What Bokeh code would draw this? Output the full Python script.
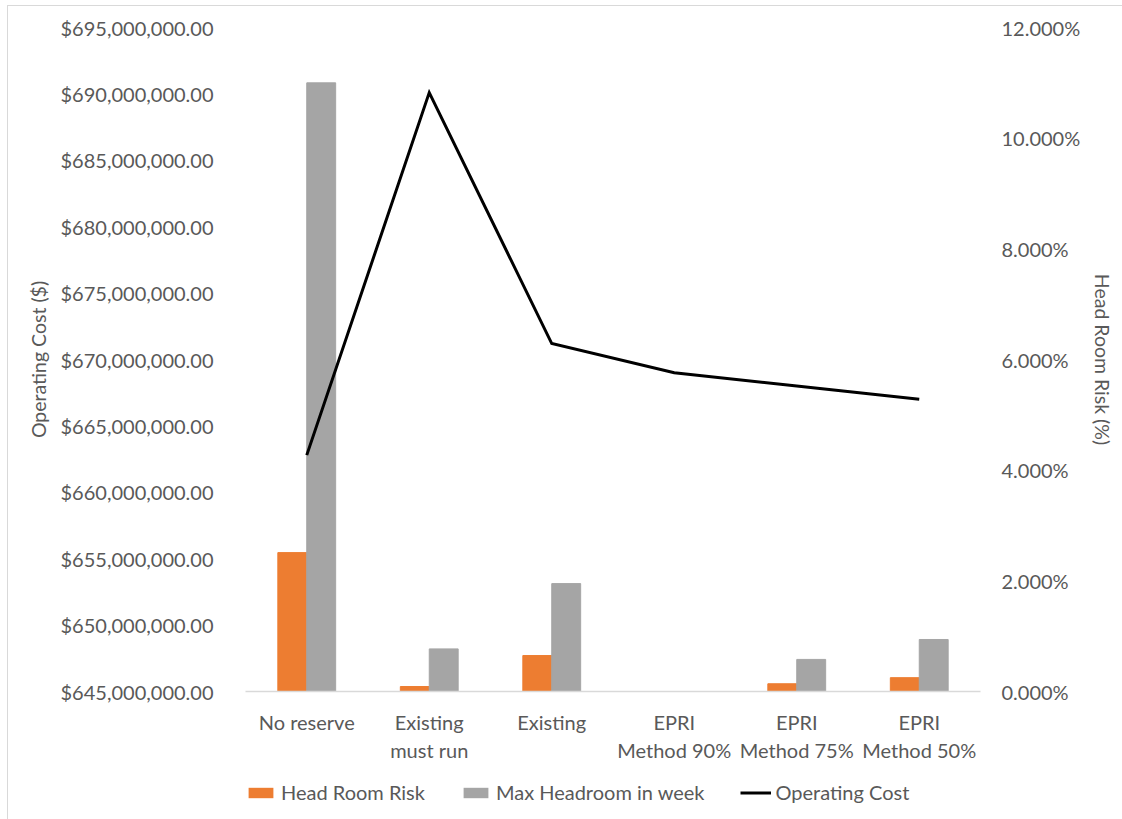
from bokeh.plotting import figure
from bokeh.layouts import column
from bokeh.models import (FactorRange, Range1d, LinearAxis, NumeralTickFormatter,
                          SingleIntervalTicker, Legend, LegendItem, ColumnDataSource)
from bokeh.transform import dodge
from bokeh.embed import file_html
from bokeh.resources import INLINE

# Scenario categories
scenarios = ["No reserve", "Existing\nmust run", "Existing",
             "EPRI\nMethod 90%", "EPRI\nMethod 75%", "EPRI\nMethod 50%"]

# Head room risk (fraction) and max headroom in week (fraction), right axis
head_room_risk = [0.0251, 0.0009, 0.0065, 0.0, 0.0014, 0.0025]
max_headroom = [0.1100, 0.0077, 0.0195, 0.0, 0.0058, 0.0094]

# Operating cost in dollars, left axis
operating_cost = [662.8e6, 690.1e6, 671.2e6, 669.0e6, 668.0e6, 667.0e6]

FONT = "Lato"
TXT = "#595959"
ORANGE = "#ed7d31"
GRAY = "#a5a5a5"

src = ColumnDataSource(dict(scenario=scenarios, hrr=head_room_risk,
                            mh=max_headroom, cost=operating_cost))

p = figure(frame_width=735, frame_height=664,
           x_range=FactorRange(*scenarios, range_padding=0, factor_padding=0),
           y_range=Range1d(645e6, 695e6),
           output_backend="svg", toolbar_location=None,
           min_border_left=237, min_border_right=142,
           min_border_top=21, min_border_bottom=70)
p.outline_line_color = None
p.background_fill_color = "white"
p.border_fill_color = "white"
p.xgrid.grid_line_color = None
p.ygrid.grid_line_color = None

p.extra_y_ranges = {"pct": Range1d(0, 0.12)}

# Left axis: operating cost
ly = p.yaxis[0]
ly.ticker = SingleIntervalTicker(interval=5e6)
ly.formatter = NumeralTickFormatter(format="$0,0.00")
ly.axis_label = "Operating Cost ($)"

# Right axis: head room risk
ry = LinearAxis(y_range_name="pct", ticker=SingleIntervalTicker(interval=0.02),
                formatter=NumeralTickFormatter(format="0.000%"),
                axis_label="Head Room Risk (%)")
p.add_layout(ry, "right")

for ax in (ly, ry):
    ax.axis_line_color = None
    ax.major_tick_line_color = None
    ax.minor_tick_line_color = None
    ax.major_label_text_font = FONT
    ax.major_label_text_font_size = "20px"
    ax.major_label_text_color = TXT
    ax.axis_label_text_font = FONT
    ax.axis_label_text_font_size = "19.5px"
    ax.axis_label_text_color = TXT
    ax.axis_label_text_font_style = "normal"
ly.major_label_standoff = 26
ly.axis_label_standoff = 8
ry.major_label_standoff = 15
ry.axis_label_standoff = 8

xa = p.xaxis[0]
xa.axis_line_color = "#d9d9d9"
xa.axis_line_width = 1.5
xa.major_tick_line_color = None
xa.minor_tick_line_color = None
xa.major_label_text_font = FONT
xa.major_label_text_font_size = "20px"
xa.major_label_text_color = TXT
xa.major_label_standoff = 12

p.vbar(x=dodge("scenario", -0.118, range=p.x_range), top="hrr", width=0.236,
       source=src, y_range_name="pct", fill_color=ORANGE, line_color=ORANGE)
p.vbar(x=dodge("scenario", 0.118, range=p.x_range), top="mh", width=0.236,
       source=src, y_range_name="pct", fill_color=GRAY, line_color=GRAY)
p.line(x="scenario", y="cost", source=src, line_width=3, line_color="black",
       line_join="miter")

# Legend strip underneath the chart; its keys are zero-size glyphs of the same style
q = figure(width=1114, height=58, x_range=Range1d(0, 1), y_range=Range1d(0, 1),
           x_axis_type=None, y_axis_type=None, min_border=0,
           output_backend="svg", toolbar_location=None)
q.outline_line_color = None
q.background_fill_color = "white"
q.border_fill_color = "white"
k1 = q.vbar(x=[0], top=[0], width=0, fill_color=ORANGE, line_color=ORANGE, line_alpha=0)
k2 = q.vbar(x=[0], top=[0], width=0, fill_color=GRAY, line_color=GRAY, line_alpha=0)
k3 = q.line(x=[0], y=[0], line_width=3, line_color="black")

legend = Legend(items=[LegendItem(label="Head Room Risk", renderers=[k1]),
                       LegendItem(label="Max Headroom in week", renderers=[k2]),
                       LegendItem(label="Operating Cost", renderers=[k3])],
                orientation="horizontal", location=(0, 19),
                border_line_color=None, background_fill_alpha=0,
                glyph_width=31, glyph_height=13, label_standoff=5, spacing=35,
                label_height=24,
                label_text_font=FONT, label_text_font_size="20px",
                label_text_color=TXT, padding=2, margin=0)
q.add_layout(legend, "center")

page = column(p, q, spacing=0)
page.styles = {"margin-top": "5px", "margin-left": "7px",
               "border-top": "1px solid #d9d9d9", "border-left": "1px solid #d9d9d9"}

open("out.html", "w").write(file_html(page, INLINE))
